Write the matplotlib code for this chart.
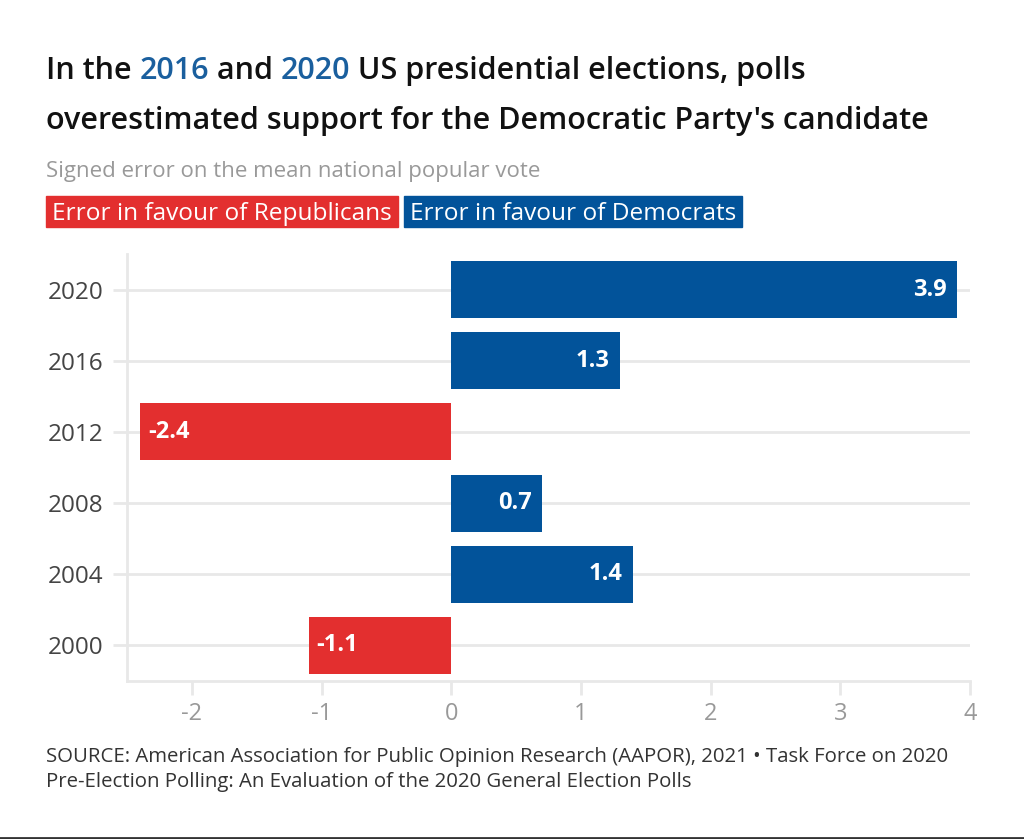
import matplotlib
matplotlib.use("Agg")
import matplotlib.pyplot as plt
from matplotlib.patches import Rectangle
from matplotlib.lines import Line2D

# data
years = ["2000", "2004", "2008", "2012", "2016", "2020"]
errors = [-1.1, 1.4, 0.7, -2.4, 1.3, 3.9]
xticks = [-2, -1, 0, 1, 2, 3, 4]

RED = "#e32f2f"
BLUE = "#02539a"
TITLE_BLUE = "#1a5f9e"

plt.rcParams['font.family'] = ['Open Sans', 'DejaVu Sans']

W, H = 1024, 839
fig = plt.figure(figsize=(W / 100, H / 100), dpi=100)
fig.patch.set_facecolor("white")
ax = fig.add_axes([127 / W, 1 - 681 / H, (970 - 127) / W, (681 - 254) / H])

ypos = list(range(len(years)))
colors = [RED if v < 0 else BLUE for v in errors]
ax.barh(ypos, errors, height=0.8, color=colors, zorder=3)

for y, v in zip(ypos, errors):
    if v < 0:
        ax.text(v + 0.06, y, f"{v:.1f}", color="white", fontsize=17,
                fontweight="bold", ha="left", va="center", zorder=4)
    else:
        ax.text(v - 0.08, y, f"{v:.1f}", color="white", fontsize=17,
                fontweight="bold", ha="right", va="center", zorder=4)

ax.set_xlim(-2.5, 4)
ax.set_ylim(-0.5, 5.5)
ax.set_yticks(ypos)
ax.set_yticklabels(years)
ax.set_xticks(xticks)
ax.set_xticklabels([str(t) for t in xticks])
ax.grid(axis="y", color="#e8e8e8", lw=2, zorder=0)
for s in ["top", "right"]:
    ax.spines[s].set_visible(False)
for s in ["left", "bottom"]:
    ax.spines[s].set_color("#e8e8e8")
    ax.spines[s].set_linewidth(2)
ax.tick_params(axis="y", length=10, width=2, color="#e8e8e8", labelsize=17.5,
               labelcolor="#444444", pad=7)
ax.tick_params(axis="x", length=10, width=2, color="#e8e8e8", labelsize=17,
               labelcolor="#999999", pad=5)

renderer = fig.canvas.get_renderer()


def draw_pieces(x_px, y_px, pieces, **kw):
    x = x_px
    for txt, col in pieces:
        t = fig.text(x / W, 1 - y_px / H, txt, color=col, va="baseline",
                     ha="left", **kw)
        bb = t.get_window_extent(renderer=renderer)
        x += bb.width
    return x


# title
tkw = dict(fontsize=22, fontweight="semibold")
draw_pieces(46, 79, [("In the ", "#111111"), ("2016", TITLE_BLUE),
                     (" and ", "#111111"), ("2020", TITLE_BLUE),
                     (" US presidential elections, polls", "#111111")], **tkw)
draw_pieces(46, 129, [("overestimated support for the Democratic Party's candidate",
                       "#111111")], **tkw)

fig.text(46 / W, 1 - 177 / H, "Signed error on the mean national popular vote",
         color="#999999", fontsize=16, va="baseline")

# legend boxes
x = 46
for label, col in [("Error in favour of Republicans", RED),
                   ("Error in favour of Democrats", BLUE)]:
    t = fig.text((x + 6) / W, 1 - 220 / H, label, color="white", fontsize=17.6,
                 va="baseline", zorder=5)
    bb = t.get_window_extent(renderer=renderer)
    w = bb.width + 12
    fig.patches.append(Rectangle((x / W, 1 - 227 / H), w / W, 31 / H,
                                 transform=fig.transFigure, color=col, zorder=1))
    x += w + 6

# source
fig.text(46 / W, 1 - 762 / H,
         "SOURCE: American Association for Public Opinion Research (AAPOR), 2021 \u2022 Task Force on 2020",
         color="#333333", fontsize=14.7, va="baseline")
fig.text(46 / W, 1 - 787 / H,
         "Pre-Election Polling: An Evaluation of the 2020 General Election Polls",
         color="#333333", fontsize=14.7, va="baseline")

fig.lines.append(Line2D([0, 1], [1.5 / H, 1.5 / H], transform=fig.transFigure,
                        color="#333333", lw=2))

fig.savefig("out.png", dpi=100, facecolor="white")
